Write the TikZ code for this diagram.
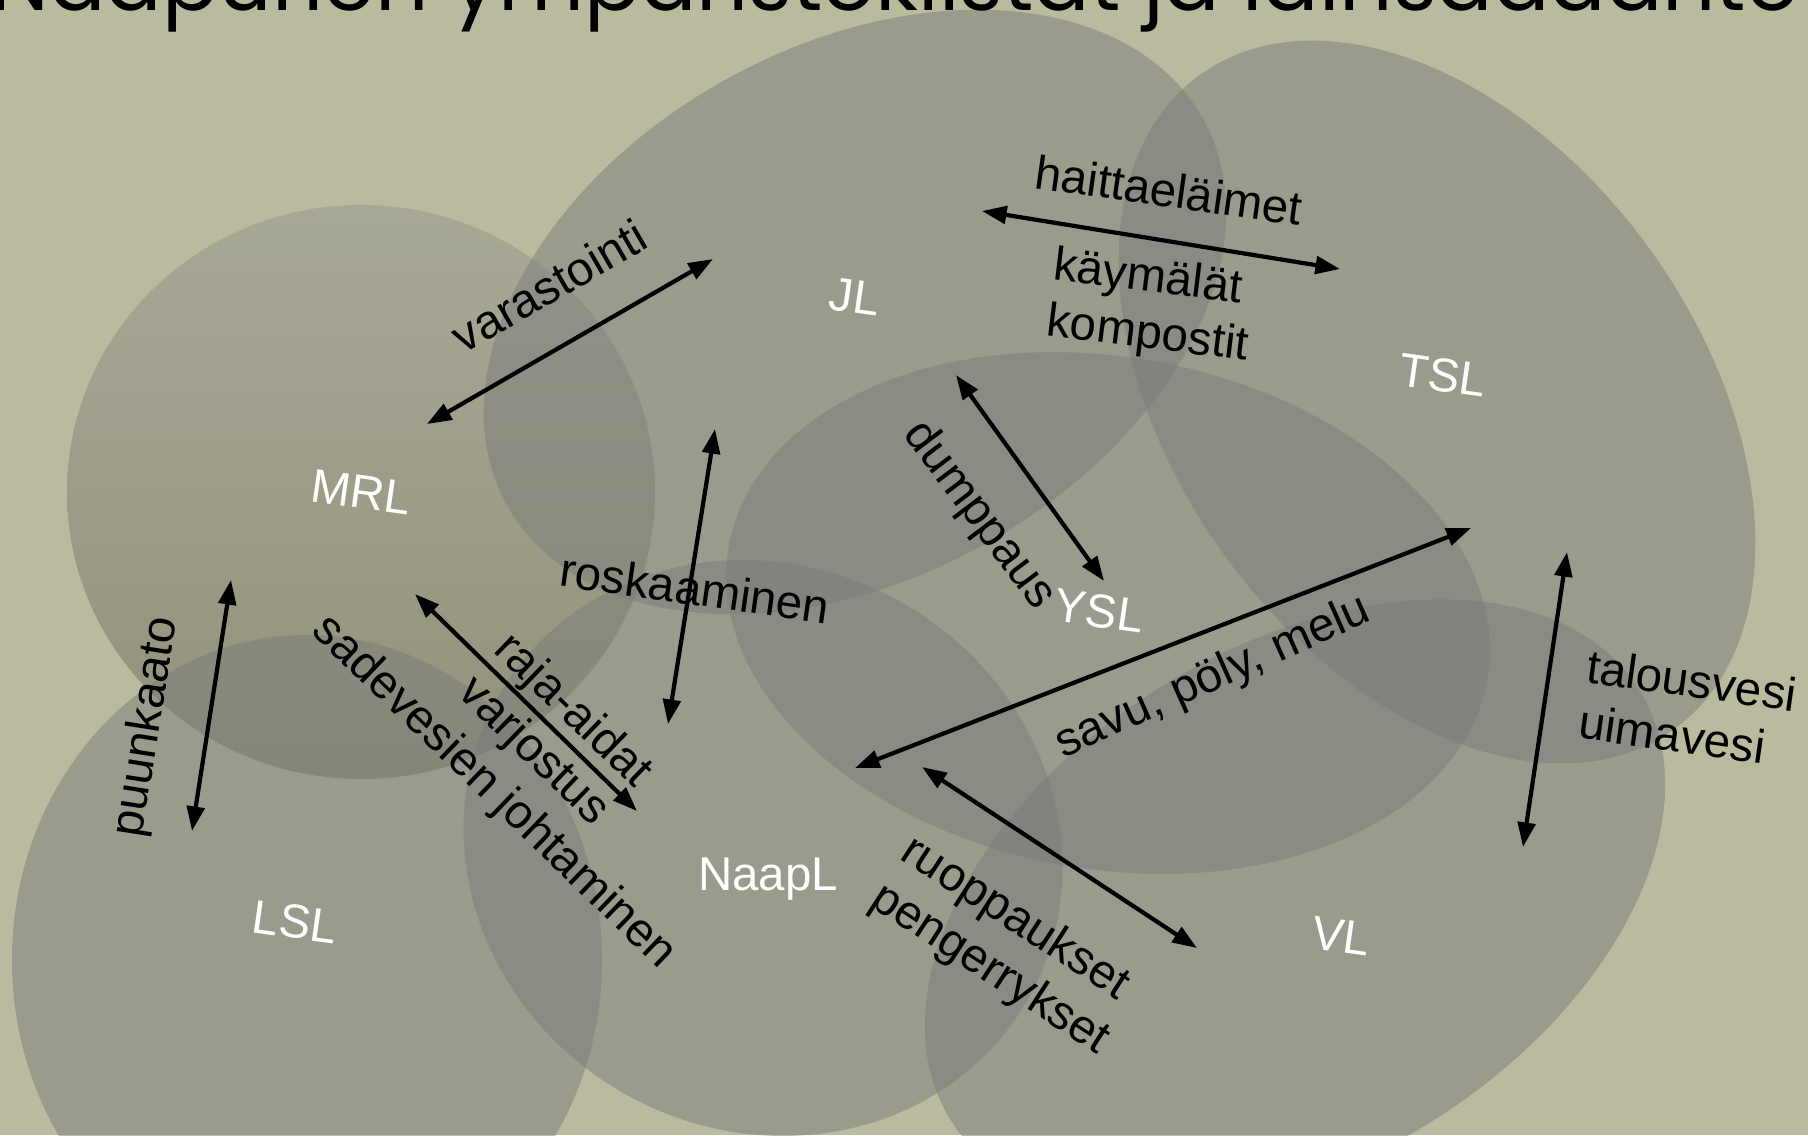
\documentclass[tikz,border=0pt]{standalone}
\usepackage{fontspec}
\setmainfont{Liberation Sans}
\newfontfamily\headfont{Poppins}
\usetikzlibrary{arrows.meta}
\definecolor{olivebg}{RGB}{185,186,158}
\definecolor{lawfill}{RGB}{122,122,122}
\definecolor{mrltop}{RGB}{168,168,150}
\definecolor{mrlbot}{RGB}{146,145,122}

\begin{document}
\begin{tikzpicture}[x=0.1mm,y=-0.1mm,
  area/.style={fill=lawfill,fill opacity=0.48},
  law/.style={text=white,font=\fontsize{13.5}{16}\selectfont,rotate=#1},
  law/.default=-8,
  issue/.style={font=\fontsize{13.5}{16}\selectfont,inner sep=0pt},
  arr/.style={{Triangle[length=7pt,width=5pt]}-{Triangle[length=7pt,width=5pt]},line width=1.2pt}]
\useasboundingbox (0,0) rectangle (1808,1135);
\fill[olivebg] (0,0) rectangle (1808,1135);
\begin{scope}
\clip (0,0) rectangle (1808,1135);
\shade[top color=mrltop,bottom color=mrlbot] (361,492) ellipse [x radius=294,y radius=287];
\fill[area,rotate around={29:(855,312)}] (855,312) ellipse [x radius=398,y radius=266];
\fill[area,rotate around={-54:(1437,402)}] (1437,402) ellipse [x radius=404,y radius=262];
\fill[area,rotate around={-10:(1108,613)}] (1108,613) ellipse [x radius=385,y radius=256];
\fill[area,rotate around={-30:(763,848)}] (763,848) ellipse [x radius=305,y radius=282];
\fill[area] (307,960) ellipse [x radius=295,y radius=325];
\fill[area,rotate around={32:(1295,905)}] (1295,905) ellipse [x radius=406,y radius=256];
\node[anchor=base west,inner sep=0pt] (title) at (-10,10) {\resizebox{180.9mm}{!}{\headfont Naapurien ympäristökiistat ja lainsäädäntö}};
\end{scope}

\node[law] (mrl) at (361,492) {MRL};
\node[law] (jl) at (855,297) {JL};
\node[law] (tsl) at (1443,375) {TSL};
\node[law] (ysl) at (1099,611) {YSL};
\node[law=0] (naapl) at (768,879) {NaapL};
\node[law] (lsl) at (295,922) {LSL};
\node[law] (vl) at (1341,936) {VL};

\node[issue,rotate=30] (varastointi) at (549,286) {varastointi};
\node[issue,rotate=-8] (haitta) at (1169,190) {haittaeläimet};
\node[issue,rotate=-7,align=left] (kaymala) at (1151,308) {käymälät\\kompostit};
\node[issue,rotate=-8] (roska) at (695,588) {roskaaminen};
\node[issue,rotate=-53] (dumppaus) at (979,516) {dumppaus};
\node[issue,rotate=24] (savu) at (1213,678) {savu, pöly, melu};
\node[issue,rotate=-8,align=left] (vesi) at (1688,708) {talousvesi\\uimavesi};
\node[issue,rotate=-33,align=left] (ruoppa) at (1005,946) {ruoppaukset\\pengerrykset};
\node[issue,rotate=-44,align=center] (raja) at (533,752) {raja-aidat\\varjostus\\sadevesien johtaminen};
\node[issue,rotate=81] (puu) at (147,727) {puunkaato};

\coordinate (mrl-jl) at (427,424);
\coordinate (jl-mrl) at (713,259);
\coordinate (jl-tsl) at (982,211);
\coordinate (tsl-jl) at (1340,269);
\coordinate (jl-naapl) at (715,429);
\coordinate (naapl-jl) at (668,724);
\coordinate (jl-ysl) at (956,375);
\coordinate (ysl-jl) at (1104,581);
\coordinate (tsl-naapl) at (1471,528);
\coordinate (naapl-tsl) at (855,768);
\coordinate (tsl-vl) at (1567,552);
\coordinate (vl-tsl) at (1523,847);
\coordinate (naapl-vl) at (922,767);
\coordinate (vl-naapl) at (1197,948);
\coordinate (mrl-naapl) at (415,594);
\coordinate (naapl-mrl) at (637,811);
\coordinate (mrl-lsl) at (231,580);
\coordinate (lsl-mrl) at (192,831);

\draw[arr] (mrl-jl) -- (jl-mrl);
\draw[arr] (jl-tsl) -- (tsl-jl);
\draw[arr] (jl-naapl) -- (naapl-jl);
\draw[arr] (jl-ysl) -- (ysl-jl);
\draw[arr] (tsl-naapl) -- (naapl-tsl);
\draw[arr] (tsl-vl) -- (vl-tsl);
\draw[arr] (naapl-vl) -- (vl-naapl);
\draw[arr] (mrl-naapl) -- (naapl-mrl);
\draw[arr] (mrl-lsl) -- (lsl-mrl);
\end{tikzpicture}
\end{document}
